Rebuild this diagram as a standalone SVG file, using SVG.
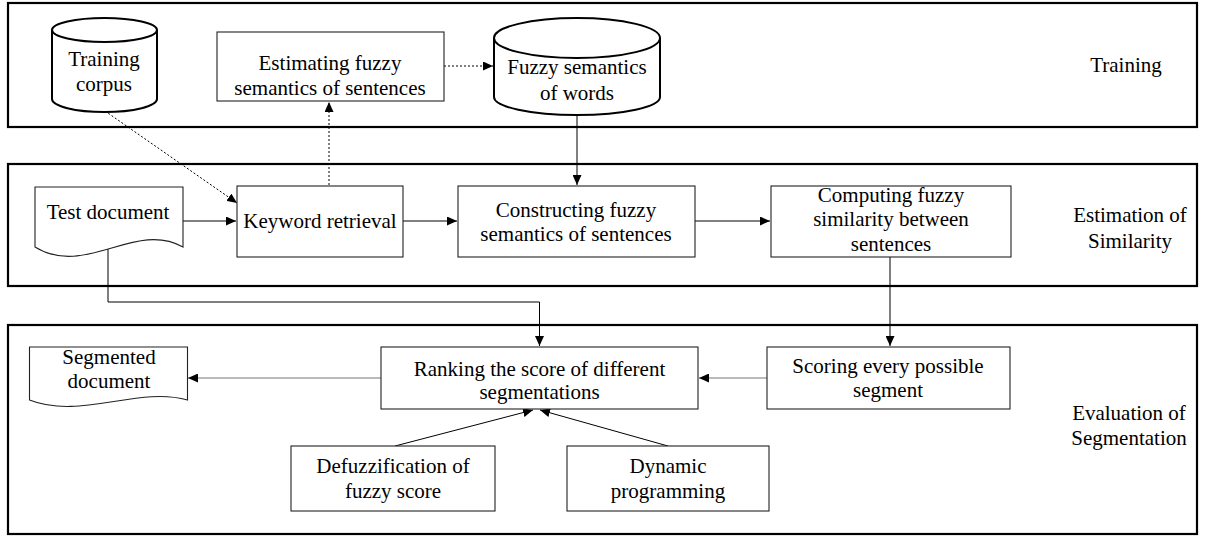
<svg xmlns="http://www.w3.org/2000/svg" width="1205" height="537" viewBox="0 0 1205 537">
<style>
text{font-family:"Liberation Serif","Times New Roman",serif;font-size:21px;fill:#000;text-anchor:middle}
.panel{fill:none;stroke:#000;stroke-width:2.2}
.box{fill:#fff;stroke:#222;stroke-width:1.1}
.cyl{fill:#fff;stroke:#000;stroke-width:2}
.c{fill:none;stroke:#000;stroke-width:1}
.d{fill:none;stroke:#000;stroke-width:1;stroke-dasharray:2,2}
.g{fill:none;stroke:#777;stroke-width:1}
</style>
<defs>
<marker id="ah" markerUnits="userSpaceOnUse" markerWidth="11" markerHeight="9" refX="10" refY="4.5" orient="auto"><path d="M0,0 L10,4.5 L0,9 z" fill="#000"/></marker>
</defs>
<g id="panels">
<rect class="panel" x="8" y="3" width="1189" height="124"/>
<rect class="panel" x="8" y="164" width="1189" height="122"/>
<rect class="panel" x="8" y="325" width="1189" height="209"/>
<text x="1126" y="72">Training</text>
<text x="1130" y="222">Estimation of</text>
<text x="1130" y="248">Similarity</text>
<text x="1129" y="420">Evaluation of</text>
<text x="1129" y="445">Segmentation</text>
</g>
<g id="connectors">
<path class="d" d="M444,66 H493" marker-end="url(#ah)"/>
<path class="d" d="M105,111 L237,203" marker-end="url(#ah)"/>
<path class="d" d="M329,205 V102" marker-end="url(#ah)"/>
<path class="c" d="M577,115 V185" marker-end="url(#ah)"/>
<path class="c" d="M183,221 H236" marker-end="url(#ah)"/>
<path class="c" d="M403,221 H457" marker-end="url(#ah)"/>
<path class="c" d="M695,221 H770" marker-end="url(#ah)"/>
<path class="c" d="M890,257 V346" marker-end="url(#ah)"/>
<path class="c" d="M108,249 V302 H539.5 V346" marker-end="url(#ah)"/>
<path class="g" d="M381,378 H188" marker-end="url(#ah)"/>
<path class="g" d="M767,378 H699" marker-end="url(#ah)"/>
<path class="c" d="M395,446 L533,410" marker-end="url(#ah)"/>
<path class="c" d="M668,446 L540,410" marker-end="url(#ah)"/>
</g>
<g id="training-corpus">
<path class="cyl" d="M52,30 V99 A52.5,13 0 0 0 157,99 V30"/>
<ellipse class="cyl" cx="104.5" cy="30" rx="52.5" ry="12"/>
<text x="104" y="66">Training</text>
<text x="104" y="91">corpus</text>
</g>
<g id="estimating">
<rect class="box" x="217" y="32" width="227" height="69"/>
<text x="330" y="70">Estimating fuzzy</text>
<text x="330" y="95">semantics of sentences</text>
</g>
<g id="fuzzy-words">
<path class="cyl" d="M494,38 V97 A83,18 0 0 0 660,97 V38"/>
<ellipse class="cyl" cx="577" cy="38" rx="83" ry="20"/>
<text x="577" y="74">Fuzzy semantics</text>
<text x="577" y="100">of words</text>
</g>
<g id="test-document">
<path class="box" d="M35,187 H183 V247 C135,220 85,278 35,247 Z"/>
<text x="108" y="219">Test document</text>
</g>
<g id="keyword">
<rect class="box" x="237" y="186" width="166" height="71"/>
<text x="320" y="228">Keyword retrieval</text>
</g>
<g id="constructing">
<rect class="box" x="458" y="186" width="237" height="71"/>
<text x="576" y="217">Constructing fuzzy</text>
<text x="576" y="241">semantics of sentences</text>
</g>
<g id="computing">
<rect class="box" x="771" y="186" width="240" height="71"/>
<text x="891" y="202">Computing fuzzy</text>
<text x="891" y="226">similarity between</text>
<text x="891" y="251">sentences</text>
</g>
<g id="segmented-document">
<path class="box" d="M29.5,347 H187.5 V400 C138,386 80,420 29.5,400 Z"/>
<text x="109" y="364">Segmented</text>
<text x="109" y="388">document</text>
</g>
<g id="ranking">
<rect class="box" x="381" y="347" width="317" height="62"/>
<text x="539.5" y="376">Ranking the score of different</text>
<text x="539.5" y="399">segmentations</text>
</g>
<g id="scoring">
<rect class="box" x="767" y="347" width="243" height="62"/>
<text x="888" y="373">Scoring every possible</text>
<text x="888" y="397">segment</text>
</g>
<g id="defuzzification">
<rect class="box" x="291" y="446" width="204" height="65"/>
<text x="393" y="473">Defuzzification of</text>
<text x="393" y="498">fuzzy score</text>
</g>
<g id="dynamic">
<rect class="box" x="567" y="446" width="202" height="65"/>
<text x="668" y="473">Dynamic</text>
<text x="668" y="498">programming</text>
</g>
</svg>
